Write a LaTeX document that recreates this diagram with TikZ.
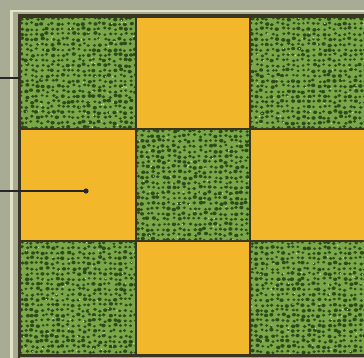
\documentclass[tikz,border=0pt]{standalone}
\usetikzlibrary{calc}
\definecolor{bgGray}{HTML}{A8AC95}
\definecolor{frameCream}{HTML}{E4E3C6}
\definecolor{edgeDark}{HTML}{3A3520}
\definecolor{cellGreen}{HTML}{7AA748}
\definecolor{holeGreen}{HTML}{2E4A1A}
\definecolor{speckPale}{HTML}{D2E8AC}
\definecolor{cellYellow}{HTML}{F2B72B}

\tikzset{
  yellowcell/.style={fill=cellYellow, draw=edgeDark, line width=1.2pt},
  greenframe/.style={draw=edgeDark, line width=1.2pt},
  hole/.style={fill=holeGreen},
  speck/.style={fill=speckPale},
  leader/.style={draw=black!85, line width=1.1pt},
}

% textured green square, #1,#2 = top-left corner, #3,#4 = size
\newcommand{\greensq}[4]{%
  \begin{scope}
    \clip (#1,#2) rectangle ++(#3,#4);
    \fill[cellGreen] (#1,#2) rectangle ++(#3,#4);
    \foreach \i in {0,...,22}{
      \foreach \j in {0,...,22}{
        \pgfmathsetmacro{\hx}{#1+1.5+\i*5.2+rand*1.2}
        \pgfmathsetmacro{\hy}{#2+1.5+\j*5.2+rand*1.2}
        \pgfmathsetmacro{\hr}{1.85+0.35*rand}
        \fill[hole] (\hx,\hy) ellipse ({\hr} and {\hr*0.85});
      }
    }
    \foreach \k in {1,...,50}{
      \pgfmathsetmacro{\sx}{#1+#3*rnd}
      \pgfmathsetmacro{\sy}{#2+#4*rnd}
      \fill[speck] (\sx,\sy) circle (0.7);
    }
  \end{scope}
  \draw[greenframe] (#1,#2) rectangle ++(#3,#4);
}

\begin{document}
\begin{tikzpicture}[x=1pt, y=-1pt]
  \pgfmathsetseed{4242}
  \useasboundingbox (0,0) rectangle (364,358);
  \fill[bgGray] (0,0) rectangle (364,358);

  % outer mount
  \draw[frameCream, line width=2.5pt] (11.5,358) -- (11.5,11) -- (364,11);
  \draw[edgeDark, line width=2pt] (19,368) -- (19,15.5) -- (370,15.5);

  % board
  \greensq{20}{17}{116}{112}
  \draw[yellowcell] (136,17) rectangle (250,129);
  \greensq{250}{17}{116}{112}

  \draw[yellowcell] (20,129) rectangle (136,241);
  \greensq{136}{129}{114}{112}
  \draw[yellowcell] (250,129) rectangle (366,241);

  \greensq{20}{241}{116}{114}
  \draw[yellowcell] (136,241) rectangle (250,355);
  \greensq{250}{241}{116}{114}

  \draw[edgeDark, line width=2pt] (19,355.5) -- (366,355.5);

  % leaders
  \coordinate (leadA) at (0,78);
  \coordinate (tipA) at (20,78);
  \coordinate (leadB) at (0,191);
  \coordinate (tipB) at (86,191);
  \draw[leader] (leadA) -- (tipA);
  \draw[leader] (leadB) -- (tipB);
  \fill[black!85] (tipB) circle (2.6);
\end{tikzpicture}
\end{document}
